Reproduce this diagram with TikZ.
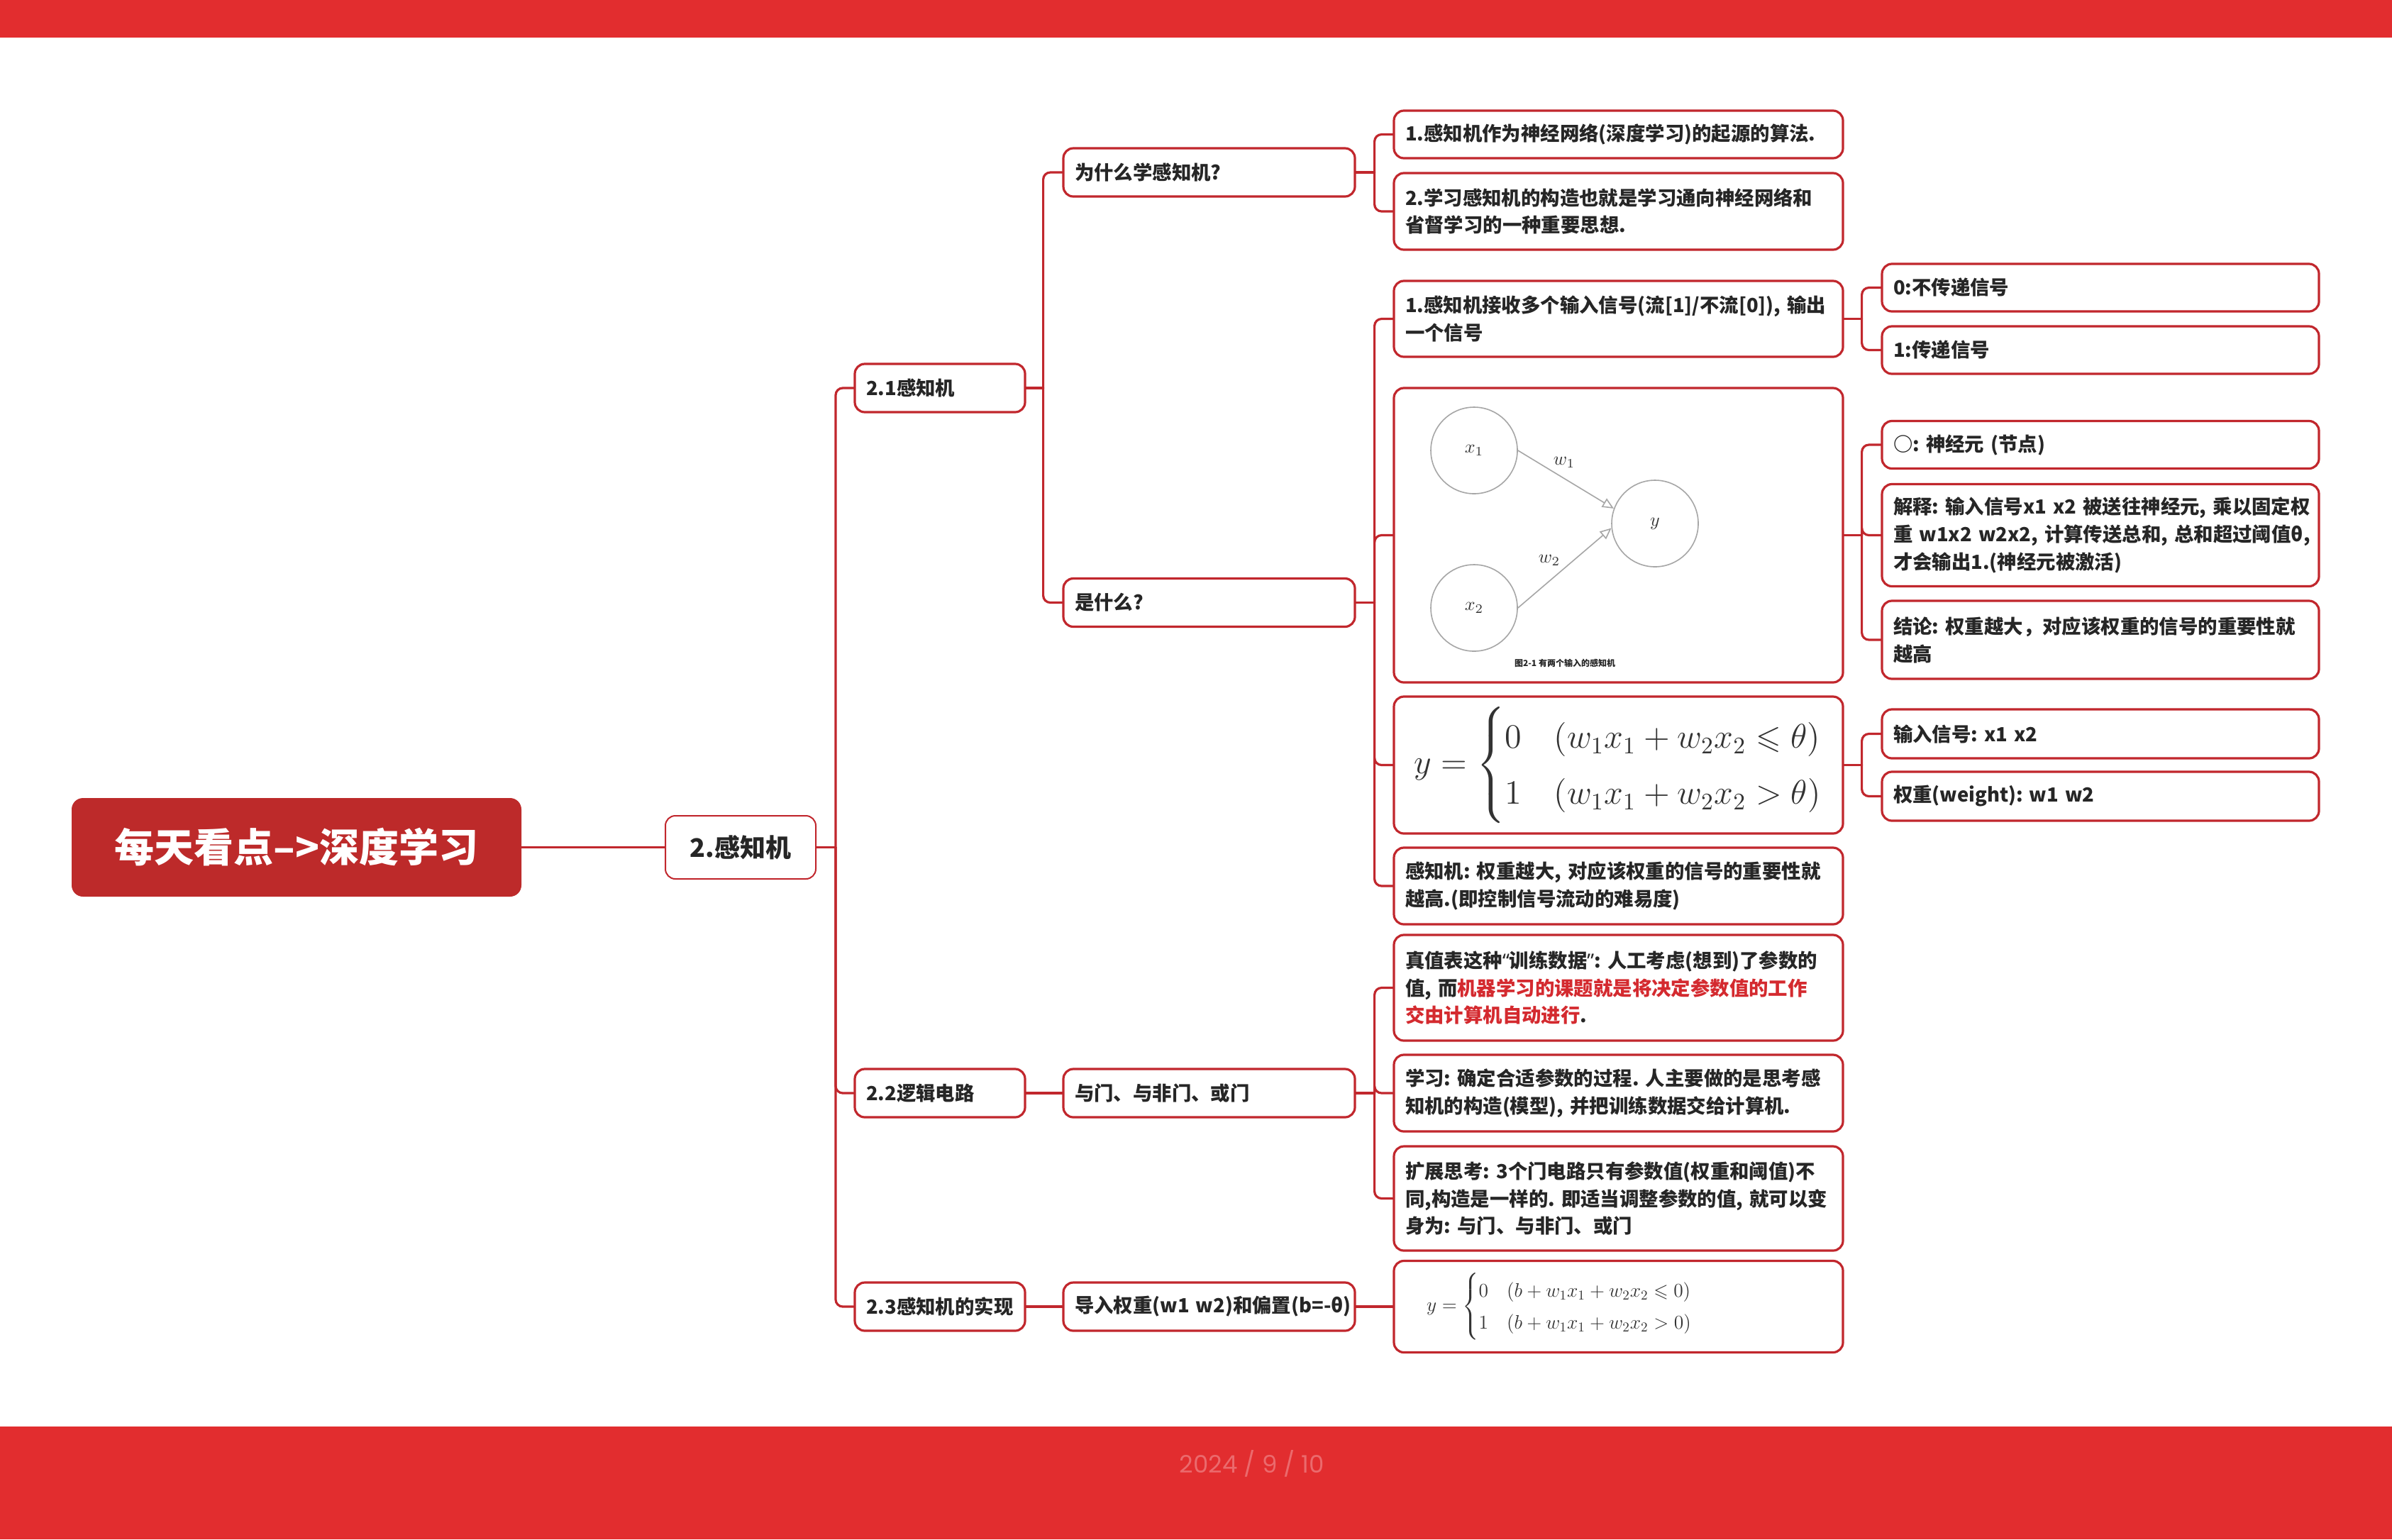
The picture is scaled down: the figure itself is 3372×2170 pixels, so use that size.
\documentclass[tikz,border=0pt]{standalone}
\usepackage{amsmath,amssymb}
\usepackage{graphicx}
\usepackage{fontspec}
\newfontfamily\cjk{Noto Sans CJK SC}
\newfontfamily\latinq{Noto Sans}
\newfontfamily\datefont{Poppins}
\usetikzlibrary{arrows.meta}
\definecolor{barred}{HTML}{E22D2F}
\definecolor{rootred}{HTML}{BD2A2A}
\definecolor{linered}{HTML}{C1272D}
\definecolor{txt}{HTML}{262626}
\definecolor{hired}{HTML}{D42A2F}
\definecolor{datecol}{HTML}{EB6A6D}
\tikzset{
 mm/.style={draw=linered, line width=1.6pt, rounded corners=7pt, fill=white, text=txt,
   font=\cjk\bfseries\fontsize{13.7}{19.4}\selectfont, align=left, inner xsep=8pt, inner ysep=2pt},
 l2/.style={mm, text width=104pt, minimum height=34pt},
 l3/.style={mm, text width=189.5pt, minimum height=34pt},
 l4/.style={mm, text width=300.5pt},
 l5/.style={mm, text width=292pt},
 rootbox/.style={fill=rootred, rounded corners=8pt, minimum width=317pt, minimum height=69.5pt,
   text=white, font=\cjk\bfseries\fontsize{28}{32}\selectfont},
 topbox/.style={draw=linered, line width=1pt, fill=white, rounded corners=7pt, minimum width=106pt,
   minimum height=44.5pt, text=txt, font=\cjk\bfseries\fontsize{18}{22}\selectfont},
 conn/.style={draw=linered, line width=1.6pt, rounded corners=5pt, line cap=round},
 neuron/.style={circle, draw=black!35, line width=0.8pt, minimum size=61pt, inner sep=0pt, text=black!80},
 syn/.style={draw=black!35, line width=0.8pt, -{Triangle[open,length=8pt,width=7pt]}},
 wlab/.style={text=black!80, inner sep=0pt},
}
\newcommand\branch[3]{%
  \draw[conn] (#1.east) -- ++(#2,0) coordinate (#1j);
  \foreach \ch in {#3}{\draw[conn] (#1j) |- (\ch.west);}}
\begin{document}
\begin{tikzpicture}[x=0.5pt,y=-0.5pt]
\useasboundingbox (0,0) rectangle (3372,2170);
\fill[white] (0,0) rectangle (3372,2170);
\fill[barred] (0,0) rectangle (3372,53);
\fill[barred] (0,2011) rectangle (3372,2170);
\node[font=\datefont\fontsize{17}{20}\selectfont, text=datecol] (date) at (1765,2063) {2024 / 9 / 10};

% root and level 1
\node[rootbox] (root) at (418,1194.5) {每天看点–>深度学习};
\node[topbox] (n2) at (1044,1194.5) {2.感知机};

% level 2
\node[l2] (L21) at (1325,547) {2.1感知机};
\node[l2] (L22) at (1325,1541) {2.2逻辑电路};
\node[l2] (L23) at (1325,1842) {\mbox{2.3感知机的实现}};

% level 3
\node[l3] (L31) at (1704.5,243) {为什么学感知机?};
\node[l3] (L32) at (1704.5,849.5) {是什么?};
\node[l3] (L33) at (1704.5,1541) {与门、与非门、或门};
\node[l3] (L34) at (1704.5,1842) {\mbox{导入权重(w1~w2)和偏置(b=-θ)}};

% level 4
\node[l4, minimum height=33.5pt] (A1) at (2281.5,189.5) {1.感知机作为神经网络(深度学习)的起源的算法.};
\node[l4, minimum height=54pt] (A2) at (2281.5,298) {2.学习感知机的构造也就是学习通向神经网络和\\省督学习的一种重要思想.};
\node[l4, minimum height=53.5pt] (B1) at (2281.5,449.5) {1.感知机接收多个输入信号(流[1]/不流[0]),~输出\\一个信号};
\node[l4, minimum height=207.5pt] (B2) at (2281.5,754.5) {};
\node[l4, minimum height=96.5pt, text=black!80] (B3) at (2281.5,1078.5) {\hspace*{6pt}\scalebox{1.67}{$\displaystyle y=\left\{\def\arraystretch{1.22}\begin{array}{@{}l@{\quad}l@{}}0 & (w_1x_1+w_2x_2\leqslant\theta)\\ 1 & (w_1x_1+w_2x_2>\theta)\end{array}\right.$}};
\node[l4, minimum height=54pt] (B4) at (2281.5,1249) {感知机:~权重越大,~对应该权重的信号的重要性就\\越高.(即控制信号流动的难易度)};
\node[l4, minimum height=74.5pt] (C1) at (2281.5,1392.5) {真值表这种{\latinq “}训练数据{\latinq ”}:~人工考虑(想到)了参数的\\值,~而\textcolor{hired}{机器学习的课题就是将决定参数值的工作}\\\textcolor{hired}{交由计算机自动进行}.};
\node[l4, minimum height=54pt] (C2) at (2281.5,1541) {学习:~确定合适参数的过程.~人主要做的是思考感\\知机的构造(模型),~并把训练数据交给计算机.};
\node[l4, minimum height=73.5pt] (C3) at (2281.5,1689.5) {扩展思考:~3个门电路只有参数值(权重和阈值)不\\同,构造是一样的.~即适当调整参数的值,~就可以变\\身为:~与门、与非门、或门};
\node[l4, minimum height=64.5pt, text=black!80] (D1) at (2281.5,1842) {\hspace*{15pt}\scalebox{0.955}{$\displaystyle y=\begin{cases}0 & (b+w_1x_1+w_2x_2\leqslant0)\\ 1 & (b+w_1x_1+w_2x_2>0)\end{cases}$}};

% level 5
\node[l5, minimum height=33.5pt] (E1) at (2961,405.5) {0:不传递信号};
\node[l5, minimum height=33.5pt] (E2) at (2961,493.5) {1:传递信号};
\node[l5, minimum height=33.5pt] (F1) at (2961,627) {○:~神经元~(节点)};
\node[l5, minimum height=72pt] (F2) at (2961,754.5) {解释:~输入信号x1~x2~被送往神经元,~乘以固定权\\重~w1x2~w2x2,~计算传送总和,~总和超过阈值θ,\\才会输出1.(神经元被激活)};
\node[l5, minimum height=55pt] (F3) at (2961,902) {结论:~权重越大，对应该权重的信号的重要性就\\越高};
\node[l5, minimum height=34.5pt] (G1) at (2961,1034.5) {输入信号:~x1~x2};
\node[l5, minimum height=34.5pt] (G2) at (2961,1122.5) {权重(weight):~w1~w2};

% perceptron picture inside B2
\node[neuron] (x1) at (2078,635) {\scalebox{1.3}{$x_1$}};
\node[neuron] (x2) at (2078,857) {\scalebox{1.3}{$x_2$}};
\node[neuron] (yy) at (2333,738) {\scalebox{1.3}{$y$}};
\draw[syn] (x1.east) -- (yy.160);
\draw[syn] (x2.east) -- (yy.186);
\node[wlab] (w1l) at (2205,652) {\scalebox{1.3}{$w_1$}};
\node[wlab] (w2l) at (2184,790) {\scalebox{1.3}{$w_2$}};
\node[font=\cjk\bfseries\fontsize{6}{7}\selectfont, text=txt, inner sep=0pt] (cap) at (2206,935) {图2-1 有两个输入的感知机};

% connectors
\draw[conn] (root.east) -- (n2.west);
\branch{n2}{27}{L21,L22,L23}
\branch{L21}{24}{L31,L32}
\draw[conn] (L22.east) -- (L33.west);
\draw[conn] (L23.east) -- (L34.west);
\branch{L31}{26}{A1,A2}
\branch{L32}{26}{B1,B2,B3,B4}
\branch{L33}{26}{C1,C2,C3}
\draw[conn] (L34.east) -- (D1.west);
\branch{B1}{25}{E1,E2}
\branch{B2}{25}{F1,F2,F3}
\branch{B3}{25}{G1,G2}
\end{tikzpicture}
\end{document}
